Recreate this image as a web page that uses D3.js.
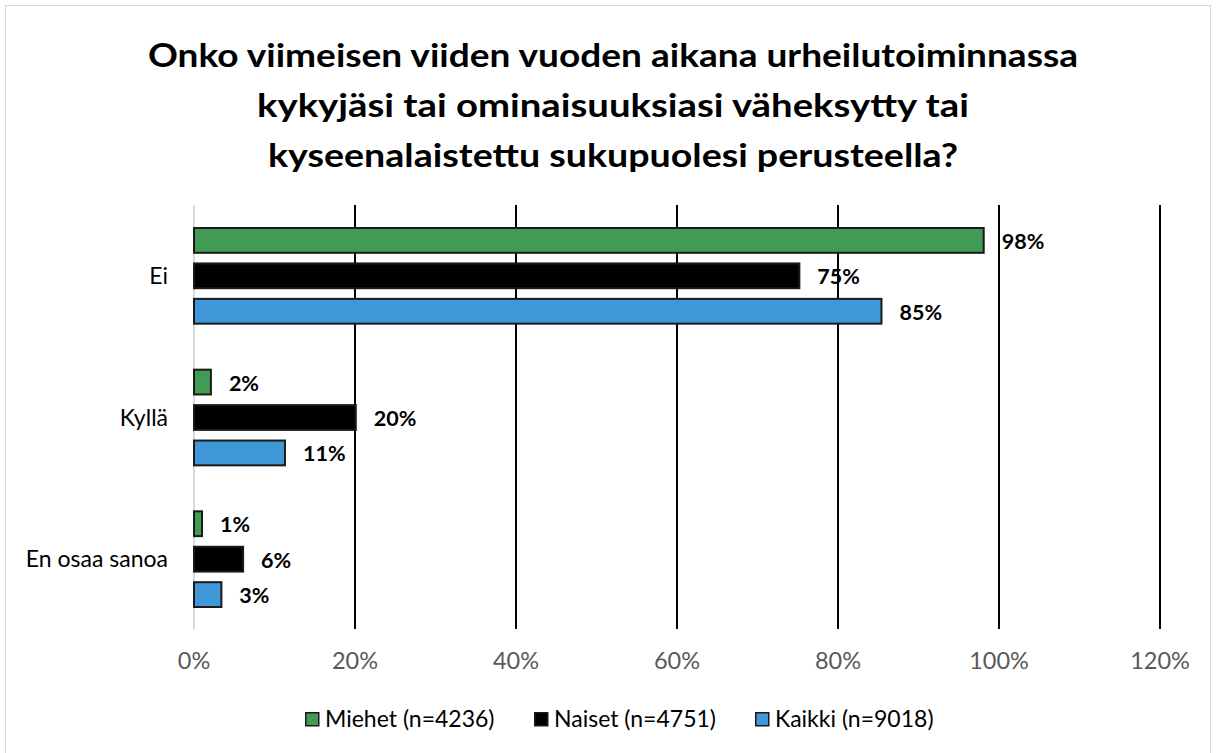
<!DOCTYPE html>
<html><head><meta charset="utf-8">
<script src="https://cdn.jsdelivr.net/npm/d3@7"></script>
<style>body{margin:0;background:#fff}svg{display:block}text{font-family:Lato,"Open Sans",sans-serif}</style>
</head><body>
<svg id="c" width="1217" height="753"></svg>
<script>
const categories = ["Ei", "Kyllä", "En osaa sanoa"];
const seriesNames = ["Miehet (n=4236)", "Naiset (n=4751)", "Kaikki (n=9018)"];
const seriesColors = ["#419B55", "#000000", "#4198D8"];
const miehet = [98.1, 2.1, 1.0];
const naiset = [75.2, 20.1, 6.1];
const kaikki = [85.4, 11.3, 3.4];
const tickValues = [0, 20, 40, 60, 80, 100, 120];
const titleLines = ["Onko viimeisen viiden vuoden aikana urheilutoiminnassa",
  "kykyjäsi tai ominaisuuksiasi väheksytty tai",
  "kyseenalaistettu sukupuolesi perusteella?"];

const series = [miehet, naiset, kaikki];
const svg = d3.select("#c");
svg.append("rect").attr("x",5.5).attr("y",5.5).attr("width",1205).attr("height",760)
  .attr("fill","#fff").attr("stroke","#d9d9d9").attr("stroke-width",1);

// title
const titleW = [930, 712, 690];
titleLines.forEach((t,i)=>{
  svg.append("text").attr("x",613).attr("y",67+i*50).attr("text-anchor","middle")
    .attr("font-size",32).attr("font-weight","bold").attr("fill","#000")
    .attr("textLength",titleW[i]).attr("lengthAdjust","spacingAndGlyphs").text(t);
});

const x = d3.scaleLinear().domain([0,120]).range([194,1160]);
const y0 = d3.scaleBand().domain(categories).range([205,630]);
const y1 = d3.scaleBand().domain(d3.range(3)).range([23, y0.bandwidth()-23]).paddingInner(0.3);

// gridlines
svg.append("g").selectAll("line").data(tickValues.filter(v=>v>0)).join("line")
  .attr("x1",d=>x(d)).attr("x2",d=>x(d)).attr("y1",205).attr("y2",629)
  .attr("stroke","#000").attr("stroke-width",2);
// axis (0 line)
svg.append("line").attr("x1",x(0)).attr("x2",x(0)).attr("y1",205).attr("y2",629)
  .attr("stroke","#d9d9d9").attr("stroke-width",2);

// tick labels
svg.append("g").selectAll("text").data(tickValues).join("text")
  .attr("x",d=>x(d)).attr("y",669).attr("text-anchor","middle")
  .attr("font-size",23.5).attr("fill","#595959").text(d=>d+"%");

// category labels
svg.append("g").selectAll("text").data(categories).join("text")
  .attr("x",168).attr("y",d=>y0(d)+y0.bandwidth()/2+8).attr("text-anchor","end")
  .attr("font-size",23).attr("fill","#000").text(d=>d);

// bars
const g = svg.append("g");
categories.forEach((c,ci)=>{
  series.forEach((s,si)=>{
    const yy = y0(c)+y1(si);
    g.append("rect").attr("x",x(0)).attr("y",yy).attr("width",x(s[ci])-x(0)).attr("height",y1.bandwidth())
      .attr("fill",seriesColors[si]).attr("stroke","#1a1a1a").attr("stroke-width",2);
    g.append("text").attr("x",x(s[ci])+18).attr("y",yy+y1.bandwidth()/2+8.5)
      .attr("font-size",21.5).attr("font-weight","bold").attr("fill","#000")
      .text(Math.round(s[ci])+"%");
  });
});

// legend
const legX = [305, 534, 755];
seriesNames.forEach((n,i)=>{
  svg.append("rect").attr("x",legX[i]+0.75).attr("y",712.75).attr("width",13).attr("height",13)
    .attr("fill",seriesColors[i]).attr("stroke","#1a1a1a").attr("stroke-width",1.5);
  svg.append("text").attr("x",legX[i]+20).attr("y",727).attr("font-size",23).attr("fill","#000").text(n);
});
</script>
</body></html>
